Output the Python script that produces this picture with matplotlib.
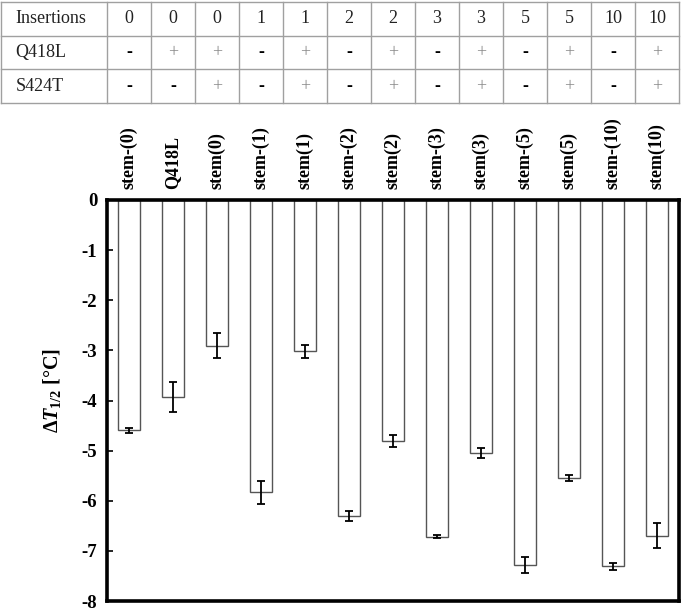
import numpy as np
import matplotlib
matplotlib.use('Agg')
import matplotlib.pyplot as plt

plt.rcParams['font.family'] = ['Liberation Serif', 'DejaVu Serif']
plt.rcParams['mathtext.fontset'] = 'custom'
plt.rcParams['mathtext.rm'] = 'Liberation Serif:bold'
plt.rcParams['mathtext.it'] = 'Liberation Serif:bold:italic'
plt.rcParams['mathtext.bf'] = 'Liberation Serif:bold'

# data
names = ['stem-(0)', 'Q418L', 'stem(0)', 'stem-(1)', 'stem(1)', 'stem-(2)', 'stem(2)',
         'stem-(3)', 'stem(3)', 'stem-(5)', 'stem(5)', 'stem-(10)', 'stem(10)']
dT = [-4.59, -3.93, -2.91, -5.83, -3.02, -6.31, -4.80, -6.72, -5.04, -7.28, -5.55, -7.31, -6.70]
err = [0.05, 0.29, 0.25, 0.23, 0.13, 0.10, 0.12, 0.03, 0.10, 0.16, 0.06, 0.07, 0.25]

row_names = ['Insertions', 'Q418L', 'S424T']
insertions = ['0', '0', '0', '1', '1', '2', '2', '3', '3', '5', '5', '10', '10']
q418l = ['-', '+', '+', '-', '+', '-', '+', '-', '+', '-', '+', '-', '+']
s424t = ['-', '-', '+', '-', '+', '-', '+', '-', '+', '-', '+', '-', '+']

W, H = 682, 610
fig = plt.figure(figsize=(W / 100, H / 100), dpi=100)

# bar chart
ax_l, ax_r, ax_t, ax_b = 107, 679, 200, 601
ax = fig.add_axes([ax_l / W, 1 - ax_b / H, (ax_r - ax_l) / W, (ax_b - ax_t) / H])
x = np.arange(len(names))
ax.bar(x, dT, width=0.5, color='white', edgecolor='#555555', linewidth=1.0)
ax.errorbar(x, dT, yerr=err, fmt='none', ecolor='black', elinewidth=1.3,
            capsize=2.6, capthick=1.3)
ax.set_xlim(-0.5, len(names) - 0.5)
ax.set_ylim(-8, 0)
ax.set_yticks(np.arange(-8, 1, 1))
ax.set_yticklabels([str(v) for v in range(-8, 1)], fontweight='bold', fontsize=13.5)
ax.tick_params(axis='y', direction='in', length=4, width=1.2, pad=7)
ax.xaxis.tick_top()
ax.set_xticks(x)
ax.set_xticklabels(names, rotation=90, fontweight='bold', fontsize=13)
ax.tick_params(axis='x', length=0, pad=8)
for s in ax.spines.values():
    s.set_linewidth(2.6)
ax.set_ylabel(r'$\Delta T_{1/2}$ [°C]', fontsize=14.5, fontweight='bold')
ax.yaxis.set_label_coords(-0.077, 0.526)

# table above
t_l, t_r, t_t, t_b = 1, 679, 2, 103
px = (ax_r - ax_l) / len(names)
xmin = -0.5 - (ax_l - t_l) / px
tab = fig.add_axes([t_l / W, 1 - t_b / H, (t_r - t_l) / W, (t_b - t_t) / H])
tab.set_xlim(xmin, len(names) - 0.5)
tab.set_ylim(3, 0)
tab.axis('off')
gc = '#a0a0a0'
for yy in range(4):
    tab.plot([xmin, len(names) - 0.5], [yy, yy], color=gc, lw=1, clip_on=False)
tab.plot([xmin, xmin], [0, 3], color=gc, lw=1, clip_on=False)
for k in range(len(names) + 1):
    tab.plot([k - 0.5, k - 0.5], [0, 3], color=gc, lw=1, clip_on=False)

rows = [insertions, q418l, s424t]
for r, (rn, vals) in enumerate(zip(row_names, rows)):
    tab.text(xmin + 0.33, r + 0.5, rn, ha='left', va='center', fontsize=13, color='#222222')
    for i, v in enumerate(vals):
        col = '#222222'
        if v == '+':
            col = '#888888'
        elif v == '-':
            col = '#000000'
        tab.text(i, r + 0.5, v, ha='center', va='center', fontsize=13, color=col,
                 fontweight='bold' if v == '-' else 'normal')

fig.savefig('out.png', dpi=100)
